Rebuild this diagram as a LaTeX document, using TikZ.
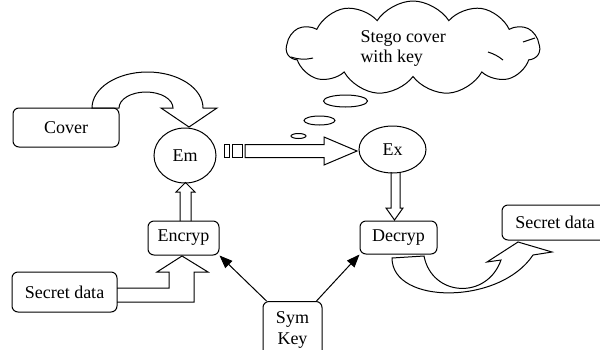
\documentclass[tikz,border=0pt]{standalone}
\usepackage{fontspec}
\setmainfont{Liberation Serif}
\usetikzlibrary{shapes.geometric,shapes.symbols,arrows.meta}

\begin{document}
\begin{tikzpicture}[x=1pt,y=-1pt, line width=1pt, line join=miter,
  every node/.style={font=\fontsize{18}{20}\selectfont},
  box/.style={draw, rounded corners=6pt, inner sep=0pt},
  oval/.style={draw, ellipse, inner sep=0pt},
  keyline/.style={-{Triangle[length=13pt,width=10pt]}}
]
\useasboundingbox (0,0) rectangle (600,349);

% process boxes
\node[box, minimum width=106pt, minimum height=39pt] (cover) at (66,127.5) {Cover};
\node[box, minimum width=105pt, minimum height=40pt] (secin) at (64.5,292) {Secret data};
\node[box, minimum width=71pt, minimum height=34pt] (enc) at (183.5,238) {Encryp};
\node[box, minimum width=77pt, minimum height=33pt] (dec) at (398.5,237.5) {Decryp};
\node[box, minimum width=106pt, minimum height=35pt] (secout) at (555,222.5) {Secret data};
\node[box, minimum width=59pt, minimum height=56pt, anchor=north, align=center,
      font=\fontsize{18}{21}\selectfont] (sym) at (292.5,301) {Sym\\Key};

% embedding / extraction
\node[oval, minimum width=62pt, minimum height=55pt] (em) at (185,155.5) {Em};
\node[oval, minimum width=67pt, minimum height=47pt] (ex) at (392.5,149.5) {Ex};

% thought cloud with its bubbles
\node[cloud, draw, cloud puffs=11, cloud puff arc=115, cloud ignores aspect,
      minimum width=253pt, minimum height=94pt, inner sep=0pt] (thought) at (413,48) {};
\draw (291,57) to[bend right=15] (313,58);
\draw (523,42) -- (535,38);
\draw (488,52) to[bend left=10] (503,60);
\node[anchor=north west, align=left, inner sep=0pt] (thoughttext) at (360,30.5) {Stego cover\\with key};
\draw (345.5,101) ellipse [x radius=22pt, y radius=6pt];
\draw (319.5,120.5) ellipse [x radius=15.5pt, y radius=4.5pt];
\draw (298.5,136) ellipse [x radius=7.5pt, y radius=2.5pt];

% cover curved block arrow into Em
\draw (92,108) arc[start angle=180, end angle=0, x radius=55.5pt, y radius=36pt]
  -- (217,108) -- (189,127) -- (161,108) -- (173,108)
  arc[start angle=0, end angle=180, x radius=27pt, y radius=16pt] -- cycle;

% Encryp up to Em
\draw (180,221) -- (180,192) -- (176,192) -- (185.5,182.5) -- (195,192) -- (191,192) -- (191,221);

% secret data elbow into Encryp
\draw (117,288) -- (169,288) -- (169,272) -- (157,272) -- (182,256)
  -- (208,272) -- (194,272) -- (194,302) -- (117,302);

% Em to Ex striped block arrow
\draw (224,144.5) rectangle (229,157.5);
\draw (232,144.5) rectangle (242,157.5);
\draw (245,144.5) -- (324,144.5) -- (324,137) -- (357,151) -- (324,165)
  -- (324,157.5) -- (245,157.5) -- cycle;

% Ex down to Decryp
\draw (391,172) -- (391,208) -- (386,208) -- (394.5,220) -- (403,208) -- (400,208) -- (400,172);

% Decryp curved block arrow to output
\draw (392,258) .. controls (392,305) and (500,305) .. (533,255)
  -- (552,252) -- (518,242) -- (487,262) -- (501,260)
  .. controls (487,300) and (432,297) .. (424,256) -- cycle;

% key distribution
\draw[keyline] ([xshift=4pt]sym.north west) -- (enc.south east);
\draw[keyline] ([xshift=-6pt]sym.north east) -- (dec.south west);
\end{tikzpicture}
\end{document}
